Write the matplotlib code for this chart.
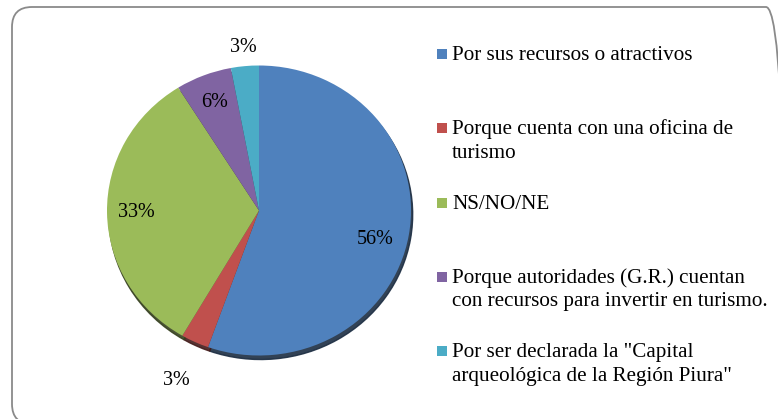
import matplotlib
matplotlib.use('Agg')
import matplotlib.pyplot as plt
from matplotlib.patches import FancyBboxPatch, Rectangle
import numpy as np

plt.rcParams['font.family'] = ['Liberation Serif', 'DejaVu Serif']

labels = ['Por sus recursos o atractivos',
          'Porque cuenta con una oficina de\nturismo',
          'NS/NO/NE',
          'Porque autoridades (G.R.) cuentan\ncon recursos para invertir en turismo.',
          'Por ser declarada la "Capital\narqueológica de la Región Piura"']
values = [56, 3, 33, 6, 3]
pct_labels = ['56%', '3%', '33%', '6%', '3%']
colors = ['#4F81BD', '#C0504D', '#9BBB59', '#8064A2', '#4BACC6']
# radial position of each percentage label (1 = pie edge) and angle nudge
label_dist = [0.79, 1.29, 0.81, 0.80, 1.13]
label_turn = [-5, 0, 0, 0, 0]

W, H = 778, 419
fig = plt.figure(figsize=(W / 100, H / 100), dpi=100)

# rounded chart-area border (pixels -> inches)
px = 1 / 100.
border = FancyBboxPatch((12 * px, (H - 424) * px), 774 * px, 417 * px,
                        boxstyle='round,pad=0,rounding_size=%f' % (20 * px),
                        transform=fig.dpi_scale_trans, facecolor='none',
                        edgecolor='#8a8a8a', linewidth=1.3, zorder=-1)
fig.patches.append(border)

# pie, slightly squashed like the original
cx, cy = 259, H - 210.5
rx, ry = 152, 145
lim = 1.3
ax = fig.add_axes([(cx - rx * lim) / W, (cy - ry * lim) / H,
                   2 * rx * lim / W, 2 * ry * lim / H], zorder=2)
wedges, _ = ax.pie(values, colors=colors, startangle=90, counterclock=False,
                   wedgeprops=dict(edgecolor='none'),
                   shadow=dict(ox=0.008, oy=-0.02, shade=0.65, alpha=0.9))
ax.set_aspect('auto')
ax.set_xlim(-lim, lim)
ax.set_ylim(-lim, lim)
ax.patch.set_alpha(0)

for w, txt, d, t in zip(wedges, pct_labels, label_dist, label_turn):
    ang = np.deg2rad((w.theta1 + w.theta2) / 2 + t)
    ax.text(d * np.cos(ang), d * np.sin(ang), txt, ha='center', va='center',
            fontsize=14.5, color='black')

# legend, drawn by hand so the first lines are evenly spaced
for i, (lab, c) in enumerate(zip(labels, colors)):
    base = 60 + i * 74.3
    fig.patches.append(Rectangle((437 / W, (H - base + 1) / H), 10 / W, 10 / H,
                                 transform=fig.transFigure, facecolor=c,
                                 edgecolor='none'))
    for j, line in enumerate(lab.split('\n')):
        fig.text(452 / W, (H - base - j * 23.5) / H, line, ha='left',
                 va='baseline', fontsize=15.2, color='black')

fig.savefig('out.png', dpi=100)
